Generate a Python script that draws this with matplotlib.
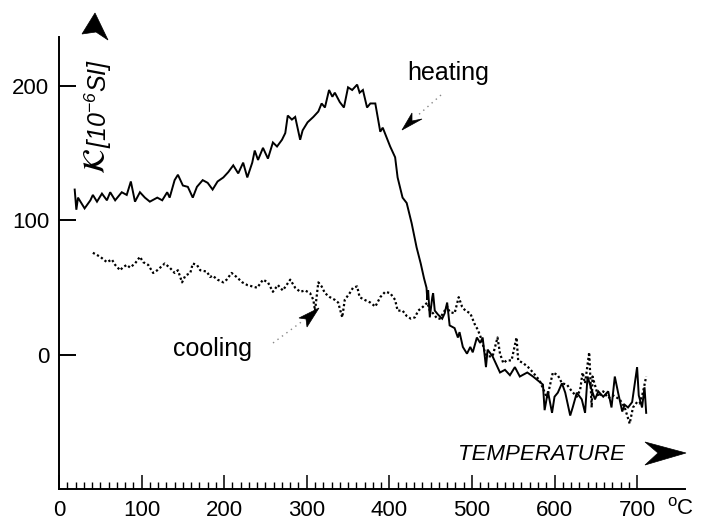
import matplotlib
matplotlib.use("Agg")
import matplotlib.pyplot as plt
from matplotlib.patches import Polygon
from matplotlib.lines import Line2D

plt.rcParams['font.family'] = ['Liberation Sans', 'DejaVu Sans']
plt.rcParams['mathtext.fontset'] = 'custom'
plt.rcParams['mathtext.rm'] = 'Liberation Sans:italic'
plt.rcParams['mathtext.it'] = 'Liberation Sans:italic'

# ---- data ----
heat_T = [19, 21, 23, 31, 38, 41, 46, 52, 58, 62, 68, 76, 82, 87, 92, 98, 104, 110,
          119, 125, 131, 134, 140, 144, 150, 156, 162, 167, 174, 180, 186, 192, 199,
          205, 211, 217, 223, 228, 234, 237, 241, 247, 253, 259, 264, 270, 274, 277,
          282, 286, 292, 295, 301, 308, 314, 318, 322, 327, 331, 334, 340, 345, 350,
          355, 361, 364, 368, 373, 377, 383, 389, 392, 401, 407, 410, 416, 421, 427,
          433, 438, 442, 445, 446, 447, 449, 452, 453, 455, 459, 464, 467, 470, 473,
          479, 483, 485, 489, 494, 498, 501, 506, 510, 513, 517, 519, 525, 534, 540,
          546, 552, 558, 567, 574, 582, 586, 588, 592, 597, 600, 604, 609, 613, 619,
          622, 627, 633, 637, 640, 645, 649, 653, 659, 665, 669, 673, 677, 682, 685,
          689, 694, 700, 702, 706, 709, 711]
heat_K = [123, 108, 117, 109, 115, 119, 114, 120, 115, 121, 115, 121, 119, 129, 114, 121, 117, 114,
          117, 115, 121, 117, 130, 134, 126, 125, 117, 125, 130, 128, 123, 129, 132,
          136, 141, 135, 143, 132, 143, 152, 145, 154, 146, 158, 155, 160, 165, 178,
          175, 177, 160, 167, 173, 177, 181, 187, 184, 197, 192, 195, 188, 184, 199,
          197, 201, 195, 197, 184, 187, 187, 166, 169, 155, 147, 132, 117, 113, 98,
          80, 68, 57, 50, 41, 48, 28, 43, 46, 33, 30, 27, 31, 39, 22,
          20, 13, 17, 6, 1, 6, 2, 13, 9, 13, -9, 4, -1, -13, -11,
          -15, -9, -16, -13, -16, -20, -22, -41, -27, -43, -31, -28, -21, -28, -45,
          -39, -28, -33, -43, -16, -26, -33, -27, -31, -27, -39, -16, -28, -42, -37,
          -39, -35, -9, -30, -39, -24, -43]

cool_T = [41, 50, 58, 64, 68, 74, 77, 82, 86, 92, 98, 102, 108, 114, 119, 128, 134, 140,
          144, 149, 153, 159, 162, 167, 171, 179, 183, 186, 192, 199, 203, 209, 215, 222,
          228, 234, 240, 247, 253, 259, 265, 271, 280, 286, 292, 298, 304, 308, 310, 314,
          318, 322, 328, 334, 338, 343, 346, 352, 356, 361, 364, 370, 377, 383, 389, 395,
          401, 407, 410, 416, 421, 426, 431, 435, 441, 446, 449, 453, 458, 461, 465, 470,
          473, 479, 484, 488, 492, 498, 504, 507, 512, 516, 519, 525, 531, 534, 538, 542,
          548, 554, 556, 562, 568, 574, 582, 591, 594, 598, 604, 609, 615, 621, 627, 631,
          634, 637, 642, 645, 646, 653, 659, 665, 671, 679, 685, 691, 695, 700, 703, 707, 711]
cool_K = [76, 73, 69, 71, 67, 63, 65, 67, 65, 68, 73, 69, 67, 61, 63, 68, 65, 61,
          63, 54, 59, 61, 68, 67, 63, 62, 58, 59, 56, 54, 56, 61, 58, 54,
          52, 51, 50, 56, 54, 47, 52, 48, 56, 50, 47, 48, 46, 41, 33, 54,
          51, 46, 43, 41, 39, 28, 41, 46, 50, 51, 43, 41, 39, 36, 43, 47,
          46, 41, 33, 33, 29, 27, 28, 33, 36, 39, 33, 31, 27, 27, 31, 36,
          32, 31, 43, 36, 33, 31, 22, 19, 11, 1, -1, -1, 13, 1, -6, -4,
          -4, 13, -4, -6, -9, -13, -19, -32, -24, -13, -15, -21, -22, -27, -31, -26,
          -13, -21, 2, -39, -16, -31, -27, -32, -30, -33, -39, -51, -39, -35, -36, -28, -16]

x_ticks = [0, 100, 200, 300, 400, 500, 600, 700]
y_ticks = [0, 100, 200]

W, H = 706, 521
fig = plt.figure(figsize=(W / 100, H / 100), dpi=100)

def fx(px):
    return px / W

def fy(py):
    return 1 - py / H

ax = fig.add_axes([fx(59), fy(489), (685 - 59) / W, (489 - 37) / H])
ax.plot(heat_T, heat_K, color='black', lw=1.4, solid_joinstyle='miter')
ax.plot(cool_T, cool_K, color='black', lw=1.6, linestyle=(0, (1, 1.1)))

ax.set_xlim(0, 758)
ax.set_ylim(-99.6, 236.4)
ax.spines['top'].set_visible(False)
ax.spines['right'].set_visible(False)
for s in ('left', 'bottom'):
    ax.spines[s].set_linewidth(1.4)

ax.set_xticks(x_ticks)
ax.set_xticks(range(0, 701, 10), minor=True)
ax.set_yticks(y_ticks)
ax.tick_params(axis='x', which='major', direction='in', length=10, width=1.1, pad=8, labelsize=16)
ax.tick_params(axis='x', which='minor', direction='in', length=5, width=1.0)
ax.tick_params(axis='y', which='major', direction='in', length=12, width=1.4, pad=7, labelsize=16)
ax.tick_params(axis='y', which='minor', left=False)

# degree label after 700
fig.text(fx(667), fy(494), 'o', fontsize=12, va='top', ha='left')
fig.text(fx(677), fy(509), 'C', fontsize=16, va='center', ha='left')

# axis arrowheads
fig.add_artist(Polygon([(fx(95), fy(13)), (fx(108), fy(40)), (fx(96), fy(32)), (fx(82), fy(34))],
                       closed=True, facecolor='black', edgecolor='black', lw=0.5,
                       transform=fig.transFigure))
fig.add_artist(Polygon([(fx(686), fy(453)), (fx(645), fy(465)), (fx(658), fy(453)), (fx(645), fy(442))],
                       closed=True, facecolor='black', edgecolor='black', lw=0.5,
                       transform=fig.transFigure))

# axis labels
fig.text(fx(97), fy(161), r'$\mathcal{K}$', math_fontfamily='stix', fontsize=22,
         rotation=90, ha='center', va='center')
fig.text(fx(98), fy(148), r'$[10^{-6}SI]$', fontsize=18, rotation=90,
         ha='center', va='bottom')
fig.text(fx(458), fy(460), 'TEMPERATURE', fontsize=16, style='italic',
         ha='left', va='baseline')

# annotations
fig.text(fx(448), fy(80), 'heating', fontsize=18, ha='center', va='baseline')
fig.text(fx(213), fy(356), 'cooling', fontsize=18, ha='center', va='baseline')

fig.add_artist(Line2D([fx(441), fx(416)], [fy(95), fy(117)], color='#888888', lw=1.0,
                      linestyle=(0, (1, 3)), transform=fig.transFigure))
fig.add_artist(Polygon([(fx(402), fy(130)), (fx(412), fy(113)), (fx(412), fy(121)), (fx(422), fy(119))],
                       closed=True, facecolor='black', edgecolor='black', lw=0.5,
                       transform=fig.transFigure))
fig.add_artist(Line2D([fx(273), fx(304)], [fy(343), fy(320)], color='#888888', lw=1.0,
                      linestyle=(0, (1, 3)), transform=fig.transFigure))
fig.add_artist(Polygon([(fx(319), fy(308)), (fx(307), fy(327)), (fx(306), fy(319)), (fx(299), fy(318))],
                       closed=True, facecolor='black', edgecolor='black', lw=0.5,
                       transform=fig.transFigure))

fig.savefig('out.png', dpi=100)
